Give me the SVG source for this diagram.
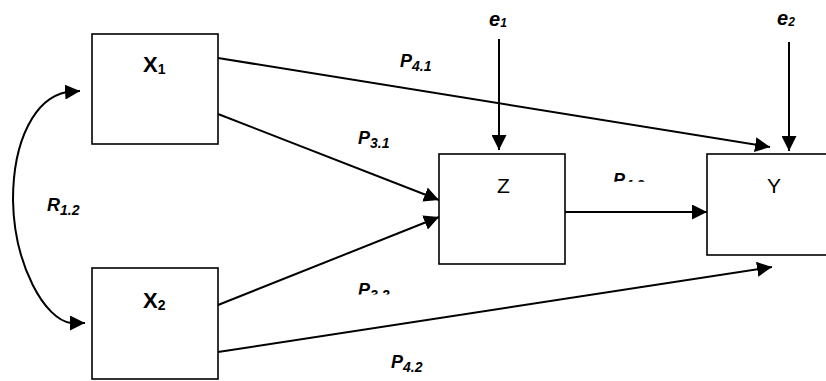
<svg xmlns="http://www.w3.org/2000/svg" width="826" height="381" viewBox="0 0 826 381">
<style>
.box{fill:#fff;stroke:#000;stroke-width:1.6}
.ln{fill:none;stroke:#000;stroke-width:2}
.nm{font-family:"Liberation Sans",Arial,sans-serif;font-size:21px;fill:#000}
.b{font-weight:bold;font-size:22px}
.lb{font-family:"Liberation Sans",Arial,sans-serif;font-size:18px;font-weight:bold;font-style:italic;fill:#000}
.sub{font-size:14px}
.e{font-size:20px}
.es{font-size:12px}
.xs{font-size:14px}
</style>
<defs>
<marker id="ah" markerUnits="userSpaceOnUse" markerWidth="16" markerHeight="15" refX="15" refY="7.5" orient="auto">
<path d="M0,0 L15,7.5 L0,15 z" fill="#000"/>
</marker>
<clipPath id="c32"><rect x="340" y="270" width="80" height="24.5"/></clipPath>
<clipPath id="c43"><rect x="600" y="160" width="80" height="21.8"/></clipPath>
</defs>
<g id="connectors">
<path class="ln" d="M218,58 L770,147" marker-end="url(#ah)"/>
<path class="ln" d="M218,114 L439,200" marker-end="url(#ah)"/>
<path class="ln" d="M218,305 L439,217" marker-end="url(#ah)"/>
<path class="ln" d="M218,352 L772,267" marker-end="url(#ah)"/>
<path class="ln" d="M565,212 L707,212" marker-end="url(#ah)"/>
<path class="ln" d="M499,39 L499,150" marker-end="url(#ah)"/>
<path class="ln" d="M789,42 L789,151" marker-end="url(#ah)"/>
<path class="ln" d="M67,92 C35,98 13,140 13,200 C14,265 45,320 71,323"/>
<path class="ln" d="M66,92 L80,91" marker-end="url(#ah)"/>
<path class="ln" d="M70,323 L85,323" marker-end="url(#ah)"/>
</g>
<g id="X1">
<rect class="box" x="92" y="34" width="126" height="110"/>
<text class="nm b" x="143" y="72">X<tspan class="xs" dy="2">1</tspan></text>
</g>
<g id="X2">
<rect class="box" x="92" y="268" width="126" height="111"/>
<text class="nm b" x="143" y="308">X<tspan class="xs" dy="2">2</tspan></text>
</g>
<g id="Z">
<rect class="box" x="439" y="154" width="126" height="110"/>
<text class="nm" x="497" y="193">Z</text>
</g>
<g id="Y">
<rect class="box" x="707" y="154" width="130" height="101"/>
<text class="nm" x="767" y="193">Y</text>
</g>
<g id="e1">
<text class="lb e" x="489" y="26">e<tspan class="es" dy="1">1</tspan></text>
</g>
<g id="e2">
<text class="lb e" x="777" y="25">e<tspan class="es" dy="1">2</tspan></text>
</g>
<g id="labels">
<text class="lb" x="400" y="67">P<tspan class="sub" dy="4">4.1</tspan></text>
<text class="lb" x="358" y="144">P<tspan class="sub" dy="4">3.1</tspan></text>
<text class="lb" x="358" y="296" clip-path="url(#c32)">P<tspan class="sub" dy="4">3.2</tspan></text>
<text class="lb" x="613" y="186" clip-path="url(#c43)">P<tspan class="sub" dy="4">4.3</tspan></text>
<text class="lb" x="391" y="368">P<tspan class="sub" dy="4">4.2</tspan></text>
<text class="lb" x="47" y="211">R<tspan class="sub" dy="4">1.2</tspan></text>
</g>
</svg>
